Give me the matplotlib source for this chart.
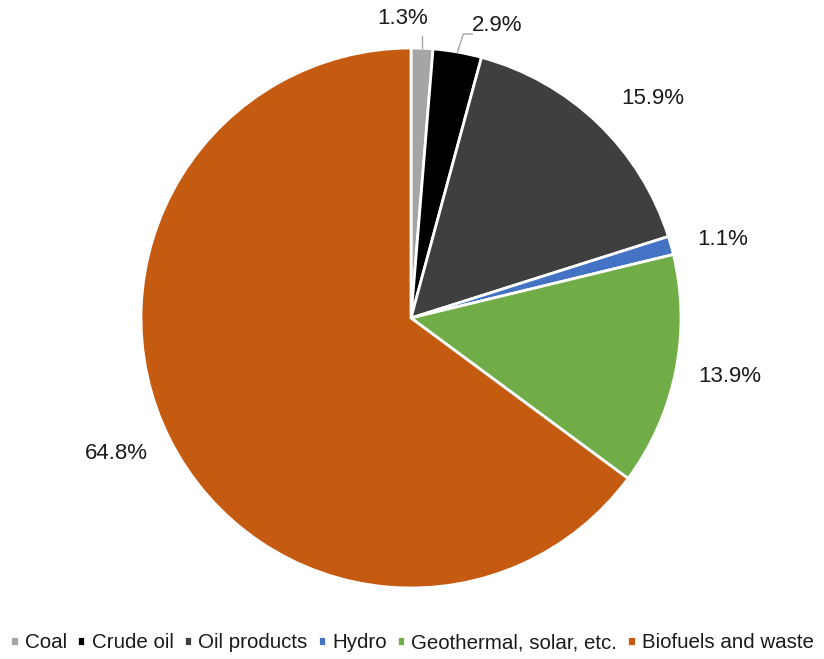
import numpy as np
import matplotlib.pyplot as plt

plt.rcParams['font.family'] = ['Liberation Sans', 'DejaVu Sans']

categories = ['Coal', 'Crude oil', 'Oil products', 'Hydro',
              'Geothermal, solar, etc.', 'Biofuels and waste']
shares = [1.3, 2.9, 15.9, 1.1, 13.9, 64.8]
colors = ['#A5A5A5', '#000000', '#3F3F3F', '#4472C4', '#70AD47', '#C55A11']

fig = plt.figure(figsize=(8.24, 6.59), dpi=100)
W, H = 824, 659
cx, cy, R = 411, 318, 270
ax = fig.add_axes([(cx - R) / W, (H - cy - R) / H, 2 * R / W, 2 * R / H])

wedges, _ = ax.pie(shares, colors=colors, startangle=90, counterclock=False,
                   radius=1.0, wedgeprops=dict(edgecolor='white', linewidth=2))
ax.set_xlim(-1, 1)
ax.set_ylim(-1, 1)
ax.set_aspect('equal')
ax.axis('off')

# label radius per slice (leader-line ones sit closer)
label_r = [1.11, 1.13, 1.21, 1.19, 1.2, 1.2]
label_shift = [4.0, -6.5, -4.0, -1.5, 1.0, -2.0]
for i, w in enumerate(wedges):
    mid = np.deg2rad((w.theta1 + w.theta2) / 2)
    ang = mid + np.deg2rad(label_shift[i])
    x, y = label_r[i] * np.cos(ang), label_r[i] * np.sin(ang)
    ax.text(x, y, f'{shares[i]:.1f}%', ha='center', va='center',
            fontsize=16, color='#1a1a1a', clip_on=False)

# leader lines for the two thin top slices
m0 = np.deg2rad((wedges[0].theta1 + wedges[0].theta2) / 2)
ax.plot([np.cos(m0), np.cos(m0)], [np.sin(m0), 1.045], color='#A5A5A5',
        lw=1, clip_on=False)
m1 = np.deg2rad((wedges[1].theta1 + wedges[1].theta2) / 2)
ax.plot([np.cos(m1), np.cos(m1) + 0.022, np.cos(m1) + 0.055],
        [np.sin(m1), 1.052, 1.052], color='#A5A5A5', lw=1, clip_on=False)

fig.legend(wedges, categories, loc='lower center', bbox_to_anchor=(0.5, -0.002),
           ncol=6, frameon=False, fontsize=14.8, handlelength=0.4,
           handleheight=0.4, handletextpad=0.3, columnspacing=0.5,
           borderaxespad=0.0, labelcolor='#1a1a1a')

fig.savefig('out.png', dpi=100)
